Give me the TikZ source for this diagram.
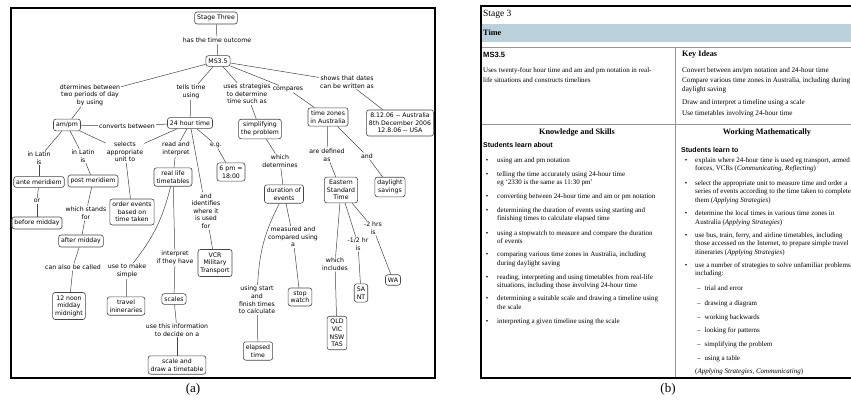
\documentclass[tikz,border=0pt]{standalone}
\usepackage{fontspec}
\setmainfont{Liberation Serif}
\newfontfamily\mapfont{DejaVu Sans}
\newfontfamily\headfont{Liberation Sans}
\usepackage{xcolor}
\usepackage{tikz}

\definecolor{bandblue}{RGB}{186,209,219}
\definecolor{rulegray}{RGB}{150,150,150}
\definecolor{mapgray}{RGB}{70,70,70}

\begin{document}
\begin{tikzpicture}[
	x=1pt, y=-1pt,
	concept/.style={draw=mapgray, line width=0.6pt, rounded corners=2.5pt, fill=white, align=center, inner xsep=2.5pt, inner ysep=3pt, font={\mapfont\fontsize{6.2}{7.6}\selectfont}},
	link/.style={align=center, inner sep=1pt, font={\mapfont\fontsize{6.2}{7.6}\selectfont}},
	conn/.style={draw=mapgray, line width=0.5pt},
	panelframe/.style={line width=2pt},
	sepline/.style={draw=rulegray, line width=0.6pt},
	ltxt/.style={anchor=base west, inner sep=0pt, font=\fontsize{7}{7}\selectfont},
	rtxt/.style={anchor=base west, inner sep=0pt, font=\fontsize{7}{7}\selectfont},
	kitxt/.style={anchor=base west, inner sep=0pt, font=\fontsize{7.15}{8}\selectfont},
	bulnode/.style={anchor=base, inner sep=0pt, font=\fontsize{7}{7}\selectfont},
	bhead/.style={anchor=base west, inner sep=0pt, font=\fontsize{8.2}{9}\selectfont\bfseries},
	subhead/.style={anchor=base west, inner sep=0pt, font=\headfont\fontsize{7}{8}\selectfont\bfseries},
	captext/.style={inner sep=0pt, font=\fontsize{13}{14}\selectfont}
]
\useasboundingbox (0,0) rectangle (851,404);

\draw[panelframe] (11,8) rectangle (435,378);

\node[concept] (stage) at (216,18) {Stage Three};
\node[link] (outcome) at (217,40) {has the time outcome};
\node[concept] (ms) at (218,61) {MS3.5};
\node[link] (dterm) at (90,95) {dtermines between\\two periods of day\\by using};
\node[link] (tells) at (191,92) {tells time\\using};
\node[link] (uses) at (247,94) {uses strategies\\to determine\\time such as};
\node[link] (compares) at (288,89) {compares};
\node[link] (shows) at (347,82) {shows that dates\\can be written as};
\node[concept] (dates) at (400,123) {8.12.06 {-}{-} Australia\\8th December 2006\\12.8.06 {-}{-} USA};
\node[concept] (ampm) at (67,125) {am/pm};
\node[link] (converts) at (127,126) {converts between};
\node[concept] (hour) at (190,123) {24 hour time};
\node[link] (latinl) at (39,158) {in Latin\\is};
\node[link] (latinm) at (83,156) {in Latin\\is};
\node[link] (selects) at (125,152) {selects\\appropriate\\unit to};
\node[link] (readint) at (176,149) {read and\\interpret};
\node[link] (eg) at (216,145) {e.g.};
\node[concept] (ante) at (39,182) {ante meridiem};
\node[concept] (post) at (93,181) {post meridiem};
\node[concept] (life) at (173,177) {real life\\timetables};
\node[concept] (sixpm) at (231,172) {6 pm =\\18:00};
\node[concept] (simpl) at (260,129) {simplifying\\the problem};
\node[link] (whichdet) at (280,161) {which\\determines};
\node[concept] (zones) at (328,117) {time zones\\in Australia};
\node[link] (defined) at (327,155) {are defined\\as};
\node[link] (andr) at (367,156) {and};
\node[concept] (duration) at (284,194) {duration of\\events};
\node[concept] (eastern) at (341,190) {Eastern\\Standard\\Time};
\node[concept] (daylight) at (390,187) {daylight\\savings};
\node[link] (orl) at (37,201) {or};
\node[concept] (before) at (37,223) {before midday};
\node[link] (stands) at (86,213) {which stands\\for};
\node[concept] (order) at (132,212) {order events\\based on\\time taken};
\node[link] (identifies) at (206,211) {and\\identifies\\where it\\is used\\for};
\node[concept] (after) at (81,241) {after midday};
\node[concept] (vcr) at (215,263) {VCR\\Military\\Transport};
\node[link] (interp) at (175,258) {interpret\\if they have};
\node[link] (called) at (73,267) {can also be called};
\node[link] (makesimple) at (127,271) {use to make\\simple};
\node[concept] (noon) at (69,306) {12 noon\\midday\\midnight};
\node[concept] (travel) at (126,306) {travel\\inineraries};
\node[concept] (scales) at (174,299) {scales};
\node[link] (useinfo) at (177,330) {use this information\\to decide on a};
\node[concept] (drawscale) at (177,365) {scale and\\draw a timetable};
\node[link] (measured) at (293,237) {measured and\\compared using\\a};
\node[link] (usingstart) at (257,300) {using start\\and\\finish times\\to calculate};
\node[concept] (stopwatch) at (300,297) {stop\\watch};
\node[concept] (elapsed) at (258,351) {elapsed\\time};
\node[link] (includes) at (335,264) {which\\includes};
\node[link] (halfhr) at (358,244) {-1/2 hr\\is};
\node[link] (twohrs) at (373,228) {-2 hrs\\is};
\node[concept] (sant) at (361,293) {SA\\NT};
\node[concept] (wa) at (393,280) {WA};
\node[concept] (qld) at (337,333) {QLD\\VIC\\NSW\\TAS};

\draw[conn] (stage) -- (outcome);
\draw[conn] (outcome) -- (ms);
\draw[conn] (ms) -- (dterm);
\draw[conn] (dterm) -- (ampm);
\draw[conn] (ms) -- (tells);
\draw[conn] (tells) -- (hour);
\draw[conn] (ms) -- (uses);
\draw[conn] (uses) -- (simpl);
\draw[conn] (ms) -- (compares);
\draw[conn] (compares) -- (zones);
\draw[conn] (ms) -- (shows);
\draw[conn] (shows) -- (dates);
\draw[conn] (hour) -- (converts);
\draw[conn] (converts) -- (ampm);
\draw[conn] (ampm) -- (selects);
\draw[conn] (hour) -- (selects);
\draw[conn] (selects) -- (order);
\draw[conn] (hour) -- (readint);
\draw[conn] (readint) -- (life);
\draw[conn] (hour) -- (eg);
\draw[conn] (eg) -- (sixpm);
\draw[conn] (hour) -- (identifies);
\draw[conn] (identifies) -- (vcr);
\draw[conn] (ampm) -- (latinl);
\draw[conn] (latinl) -- (ante);
\draw[conn] (ampm) -- (latinm);
\draw[conn] (latinm) -- (post);
\draw[conn] (ante) -- (orl);
\draw[conn] (orl) -- (before);
\draw[conn] (post) -- (stands);
\draw[conn] (stands) -- (after);
\draw[conn] (after) -- (called);
\draw[conn] (called) -- (noon);
\draw[conn] (life) to[bend left=12] (makesimple);
\draw[conn] (makesimple) -- (travel);
\draw[conn] (life) -- (interp);
\draw[conn] (interp) -- (scales);
\draw[conn] (scales) -- (useinfo);
\draw[conn] (useinfo) -- (drawscale);
\draw[conn] (simpl) -- (whichdet);
\draw[conn] (whichdet) -- (duration);
\draw[conn] (duration) -- (measured);
\draw[conn] (measured) -- (stopwatch);
\draw[conn] (duration) to[bend right=12] (usingstart);
\draw[conn] (usingstart) -- (elapsed);
\draw[conn] (zones) -- (defined);
\draw[conn] (defined) -- (eastern);
\draw[conn] (zones) -- (andr);
\draw[conn] (andr) -- (daylight);
\draw[conn] (eastern) -- (twohrs);
\draw[conn] (twohrs) -- (wa);
\draw[conn] (eastern) -- (halfhr);
\draw[conn] (halfhr) -- (sant);
\draw[conn] (eastern) -- (includes);
\draw[conn] (includes) -- (qld);

\node[captext] (capa) at (193,389) {(a)};

\fill[bandblue] (481,24) rectangle (851,42);
\draw[sepline] (481,47) -- (851,47);
\draw[sepline] (481,124) -- (851,124);
\draw[sepline] (675,47) -- (675,378);
\draw[panelframe] (851,6) -- (481,6) -- (481,378) -- (851,378);

\node[anchor=base west, inner sep=0pt, font=\fontsize{9.5}{10}\selectfont] (stg) at (483,17) {Stage 3};
\node[bhead] (timehd) at (483,36) {Time};
\node[subhead, font=\headfont\fontsize{7.6}{8}\selectfont\bfseries] (outc) at (483,58) {MS3.5};
\node[bhead] (keyid) at (682,57) {Key Ideas};

\begin{scope}
\clip (481,47) rectangle (673,378);
\node[ltxt] (us1) at (483,72) {Uses twenty-four hour time and am and pm notation in real-};
\node[ltxt] (us2) at (483,82) {life situations and constructs timelines};
\node[bhead, anchor=base] (know) at (577,134) {Knowledge and Skills};
\node[subhead] (about) at (483,147) {Students learn about};
\node[bulnode] (kb1) at (487,162) {\textbullet};
\node[ltxt] (kl1) at (497,162) {using am and pm notation};
\node[bulnode] (kb2) at (487,176) {\textbullet};
\node[ltxt] (kl2) at (497,176) {telling the time accurately using 24-hour time};
\node[ltxt] (kl3) at (497,184) {eg ‘2330 is the same as 11:30 pm’};
\node[bulnode] (kb3) at (487,198) {\textbullet};
\node[ltxt] (kl4) at (497,198) {converting between 24-hour time and am or pm notation};
\node[bulnode] (kb4) at (487,212) {\textbullet};
\node[ltxt] (kl5) at (497,212) {determining the duration of events using starting and};
\node[ltxt] (kl6) at (497,220) {finishing times to calculate elapsed time};
\node[bulnode] (kb5) at (487,235) {\textbullet};
\node[ltxt] (kl7) at (497,235) {using a stopwatch to measure and compare the duration};
\node[ltxt] (kl8) at (497,243) {of events};
\node[bulnode] (kb6) at (487,256) {\textbullet};
\node[ltxt] (kl9) at (497,256) {comparing various time zones in Australia, including};
\node[ltxt] (kl10) at (497,265) {during daylight saving};
\node[bulnode] (kb7) at (487,279) {\textbullet};
\node[ltxt] (kl11) at (497,279) {reading, interpreting and using timetables from real-life};
\node[ltxt] (kl12) at (497,287) {situations, including those involving 24-hour time};
\node[bulnode] (kb8) at (487,300) {\textbullet};
\node[ltxt] (kl13) at (497,300) {determining a suitable scale and drawing a timeline using};
\node[ltxt] (kl14) at (497,309) {the scale};
\node[bulnode] (kb9) at (487,323) {\textbullet};
\node[ltxt] (kl15) at (497,323) {interpreting a given timeline using the scale};
\end{scope}

\begin{scope}
\clip (676,47) rectangle (851,378);
\node[kitxt] (ki1) at (682,73) {Convert between am/pm notation and 24-hour time};
\node[kitxt] (ki2) at (682,82) {Compare various time zones in Australia, including during};
\node[kitxt] (ki3) at (682,91) {daylight saving};
\node[kitxt] (ki4) at (682,104) {Draw and interpret a timeline using a scale};
\node[kitxt] (ki5) at (682,115) {Use timetables involving 24-hour time};
\node[bhead, anchor=base] (work) at (767,134) {Working Mathematically};
\node[subhead] (learnto) at (681,152) {Students learn to};
\node[bulnode] (wb1) at (686,162) {\textbullet};
\node[rtxt] (wl1) at (695,162) {explain where 24-hour time is used eg transport, armed};
\node[rtxt] (wl2) at (695,170) {forces, VCRs (\textit{Communicating, Reflecting})};
\node[bulnode] (wb2) at (686,185) {\textbullet};
\node[rtxt] (wl3) at (695,185) {select the appropriate unit to measure time and order a};
\node[rtxt] (wl4) at (695,193) {series of events according to the time taken to complete};
\node[rtxt] (wl5) at (695,202) {them (\textit{Applying Strategies})};
\node[bulnode] (wb3) at (686,215) {\textbullet};
\node[rtxt] (wl6) at (695,215) {determine the local times in various time zones in};
\node[rtxt] (wl7) at (695,224) {Australia (\textit{Applying Strategies})};
\node[bulnode] (wb4) at (686,237) {\textbullet};
\node[rtxt] (wl8) at (695,237) {use bus, train, ferry, and airline timetables, including};
\node[rtxt] (wl9) at (695,245) {those accessed on the Internet, to prepare simple travel};
\node[rtxt] (wl10) at (695,254) {itineraries (\textit{Applying Strategies})};
\node[bulnode] (wb5) at (686,267) {\textbullet};
\node[rtxt] (wl11) at (695,267) {use a number of strategies to solve unfamiliar problems,};
\node[rtxt] (wl12) at (695,275) {including:};
\node[rtxt] (wd1) at (697,290) {–\hspace{4pt}trial and error};
\node[rtxt] (wd2) at (697,305) {–\hspace{4pt}drawing a diagram};
\node[rtxt] (wd3) at (697,319) {–\hspace{4pt}working backwards};
\node[rtxt] (wd4) at (697,332) {–\hspace{4pt}looking for patterns};
\node[rtxt] (wd5) at (697,346) {–\hspace{4pt}simplifying the problem};
\node[rtxt] (wd6) at (697,360) {–\hspace{4pt}using a table};
\node[rtxt] (wl13) at (695,373) {(\textit{Applying Strategies, Communicating})};
\end{scope}

\node[captext] (capb) at (668,389) {(b)};

\end{tikzpicture}
\end{document}
